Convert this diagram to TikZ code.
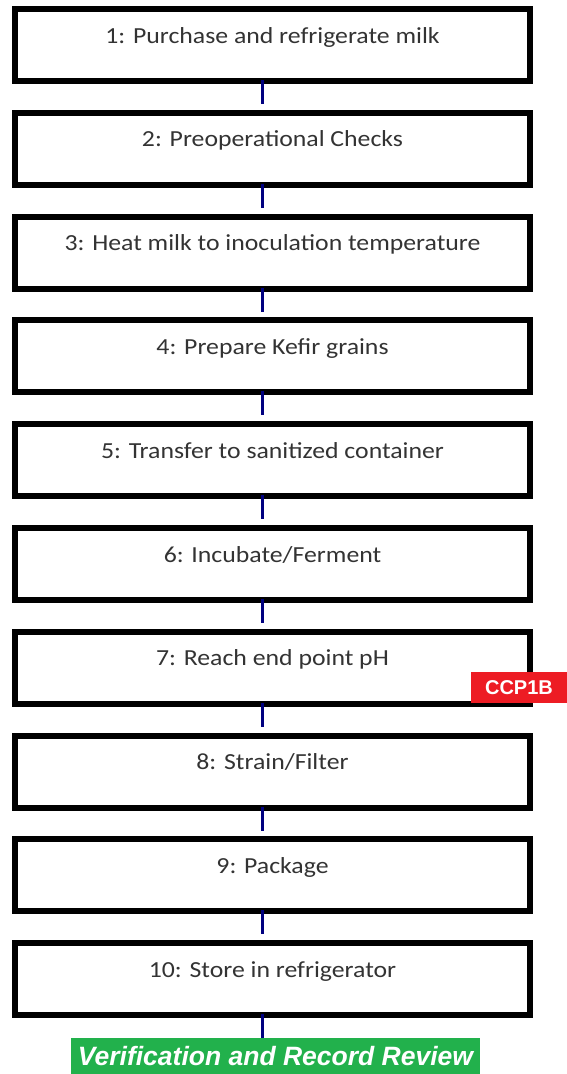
\documentclass[tikz,border=0pt]{standalone}
\usepackage{fontspec}
\setmainfont{Carlito}[FakeStretch=1.12]
\newfontfamily\arialfont{Liberation Sans}
\usetikzlibrary{calc}
\definecolor{ccpred}{RGB}{237,28,36}
\definecolor{vgreen}{RGB}{34,177,76}
\definecolor{connblue}{RGB}{0,0,128}
\tikzset{
  stepbox/.style={draw=black, line width=6pt, minimum width=515pt, minimum height=72pt,
    inner sep=0pt, outer sep=0pt, font=\fontsize{23}{27}\selectfont, text=black!80,
    text height=10pt, text depth=14pt},
  connector/.style={draw=connblue, line width=3pt},
  ccptag/.style={fill=ccpred, text=white, inner sep=0pt, outer sep=0pt,
    minimum width=96pt, minimum height=31pt, font=\arialfont\bfseries\fontsize{20}{24}\selectfont},
  verifytag/.style={fill=vgreen, text=white, inner sep=0pt, outer sep=0pt,
    minimum width=409pt, minimum height=36pt, font=\arialfont\bfseries\itshape\fontsize{26.5}{30}\selectfont}
}
\begin{document}
\begin{tikzpicture}[x=1pt,y=-1pt]
\useasboundingbox (0,0) rectangle (567,1074);
\foreach \i/\t in {1/{1: Purchase and refrigerate milk},
                   2/{2: Preoperational Checks},
                   3/{3: Heat milk to inoculation temperature},
                   4/{4: Prepare Kefir grains},
                   5/{5: Transfer to sanitized container},
                   6/{6: Incubate/Ferment},
                   7/{7: Reach end point pH},
                   8/{8: Strain/Filter},
                   9/{9: Package},
                   10/{10: Store in refrigerator}}{
  \pgfmathsetmacro{\yy}{45+103.8*(\i-1)}
  \node[stepbox] (b\i) at (272.5,\yy) {\t};
}
\foreach \i [evaluate=\i as \j using int(\i+1)] in {1,...,9}{
  \draw[connector] ([xshift=-10pt,yshift=1pt]b\i.south) -- ([xshift=-10pt,yshift=8.8pt]b\j.north);
}
\node[ccptag] (ccp) at (519,687.5) {CCP1B};
\node[verifytag] (verif) at (275.5,1056) {Verification and Record Review};
\draw[connector] ([xshift=-10pt,yshift=1pt]b10.south) -- ([xshift=-10pt]b10.south |- verif.north);
\end{tikzpicture}
\end{document}
